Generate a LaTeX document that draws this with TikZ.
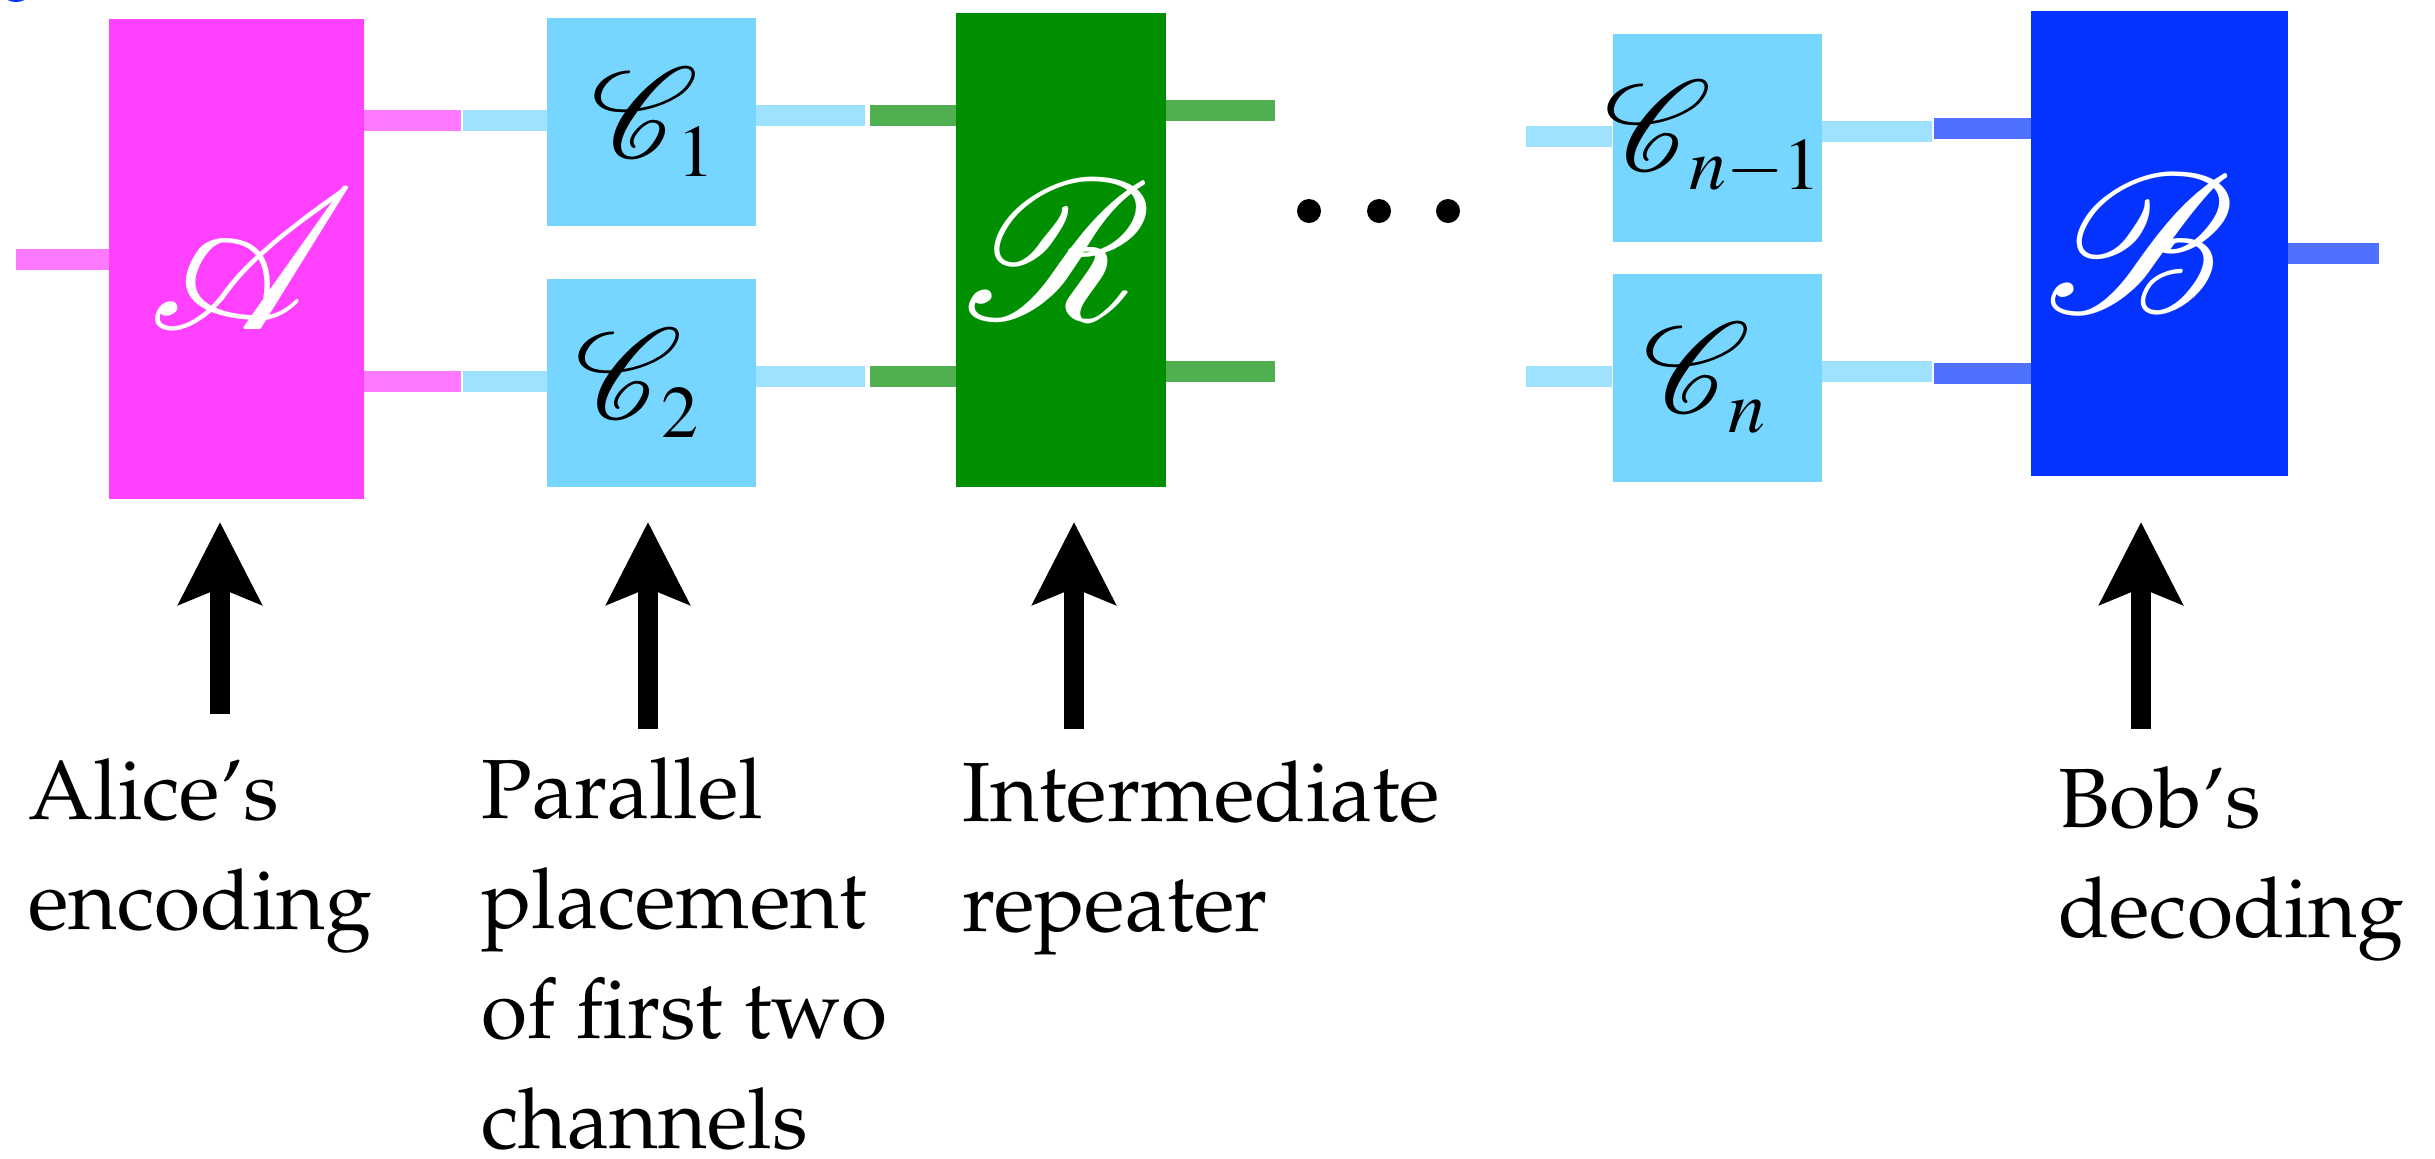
\documentclass[tikz,border=0pt]{standalone}
\usepackage[T1]{fontenc}
\usepackage{mathptmx}
\renewcommand{\rmdefault}{ppl}
\usetikzlibrary{arrows.meta}

% scalable formal script alphabet for the channel and party symbols
\DeclareFontFamily{U}{scrfam}{\skewchar\font127 }
\DeclareFontShape{U}{scrfam}{m}{n}{<-> rsfs10}{}
\DeclareMathAlphabet{\chanscr}{U}{scrfam}{m}{n}
% channel labels carry rather large indices
\DeclareMathSizes{64}{64}{37}{28}

\definecolor{magentaBox}{RGB}{255,64,255}
\definecolor{magentaWire}{RGB}{255,121,255}
\definecolor{skyBox}{RGB}{118,214,255}
\definecolor{skyWire}{RGB}{159,226,255}
\definecolor{cloverBox}{RGB}{0,143,0}
\definecolor{cloverWire}{RGB}{80,176,80}
\definecolor{blueBox}{RGB}{4,51,255}
\definecolor{blueWire}{RGB}{80,112,255}

% label centred on the box without widening it; #1 nudges it sideways
\newcommand{\boxlabel}[2]{\makebox[0pt]{\hspace*{#1}#2}}
% left-aligned lines, baseline at the first line, no extra depth below the last
\newcommand{\linestack}[1]{\vtop{\halign{##\hfil\cr#1\crcr}}}

\begin{document}
\begin{tikzpicture}[x=0.5pt,y=-0.5pt,
  box/.style={rectangle, inner sep=0pt, draw=none},
  party/.style={box, text=white, font=\fontsize{100}{100}\selectfont},
  chan/.style={box, fill=skyBox, minimum width=104.5pt, minimum height=104pt,
               font=\fontsize{64}{64}\selectfont},
  wire/.style={line width=10.5pt, line cap=butt},
  pointer/.style={line width=10pt, -{Stealth[length=41pt,width=41pt,inset=8pt]}},
  caption/.style={anchor=base west, inner sep=0pt, font=\fontsize{42}{55}\selectfont},
  dotmark/.style={circle, fill=black, minimum size=12pt, inner sep=0pt}]
\useasboundingbox (0,0) rectangle (2435,1158);

% stray mark in the corner
\fill[blueBox] (16,-4) ellipse (11 and 6);

% boxes
\node[party, fill=magentaBox, minimum width=127.5pt, minimum height=240pt] (A) at (236.5,259) {\boxlabel{15pt}{$\chanscr{A}$}};
\node[chan] (C1) at (651.5,122) {\boxlabel{2pt}{$\chanscr{C}_1$}};
\node[chan] (C2) at (651.5,383) {\boxlabel{-14pt}{$\chanscr{C}_2$}};
\node[party, fill=cloverBox, minimum width=105pt, minimum height=237pt] (R) at (1061,250) {\boxlabel{0pt}{$\chanscr{R}$}};
\node[chan] (Cm) at (1717,138) {\boxlabel{-4pt}{$\chanscr{C}_{n-1}$}};
\node[chan] (Cn) at (1717,378) {\boxlabel{-12pt}{$\chanscr{C}_n$}};
\node[party, fill=blueBox, minimum width=128.5pt, minimum height=232.5pt] (B) at (2159.5,243.5) {\boxlabel{-20pt}{$\chanscr{B}$}};

% ellipsis between the repeater and the last channels
\node[dotmark] (d1) at (1309,211) {};
\node[dotmark] (d2) at (1379,211) {};
\node[dotmark] (d3) at (1448,211) {};

% wire stubs
\draw[wire, magentaWire] (A.west) -- ++(-93,0);
\draw[wire, magentaWire] ([yshift=69.25pt]A.east) -- ++(97,0);
\draw[wire, magentaWire] ([yshift=-61.25pt]A.east) -- ++(97,0);
\draw[wire, skyWire] ([yshift=0.75pt]C1.west) -- ++(-84,0);
\draw[wire, skyWire] ([yshift=0.75pt]C2.west) -- ++(-84,0);
\draw[wire, skyWire] ([yshift=3.25pt]C1.east) -- ++(109,0);
\draw[wire, skyWire] ([yshift=3.25pt]C2.east) -- ++(109,0);
\draw[wire, cloverWire] ([yshift=67.5pt]R.west) -- ++(-86,0);
\draw[wire, cloverWire] ([yshift=-63.25pt]R.west) -- ++(-86,0);
\draw[wire, cloverWire] ([yshift=70pt]R.east) -- ++(109,0);
\draw[wire, cloverWire] ([yshift=-60.75pt]R.east) -- ++(109,0);
\draw[wire, skyWire] ([yshift=0.75pt]Cm.west) -- ++(-86,0);
\draw[wire, skyWire] ([yshift=0.75pt]Cn.west) -- ++(-86,0);
\draw[wire, skyWire] ([yshift=3.25pt]Cm.east) -- ++(110,0);
\draw[wire, skyWire] ([yshift=3.25pt]Cn.east) -- ++(110,0);
\draw[wire, blueWire] ([yshift=57.5pt]B.west) -- ++(-97,0);
\draw[wire, blueWire] ([yshift=-65pt]B.west) -- ++(-97,0);
\draw[wire, blueWire] ([yshift=-5pt]B.east) -- ++(91,0);

% captions
\node[caption] (capA) at (28,819) {\linestack{Alice's\cr encoding}};
\node[caption] (capC) at (481,818) {\linestack{Parallel\cr placement\cr of first two\cr channels}};
\node[caption] (capR) at (962,821) {\linestack{Intermediate\cr repeater}};
\node[caption] (capB) at (2058,827) {\linestack{Bob's\cr decoding}};

% pointers from captions up to the boxes
\coordinate (tA) at (220,714);  \coordinate (hA) at (220,522);
\coordinate (tC) at (648,729);  \coordinate (hC) at (648,522);
\coordinate (tR) at (1074,729); \coordinate (hR) at (1074,522);
\coordinate (tB) at (2141,729); \coordinate (hB) at (2141,522);
\draw[pointer] (tA) -- (hA);
\draw[pointer] (tC) -- (hC);
\draw[pointer] (tR) -- (hR);
\draw[pointer] (tB) -- (hB);
\end{tikzpicture}
\end{document}
